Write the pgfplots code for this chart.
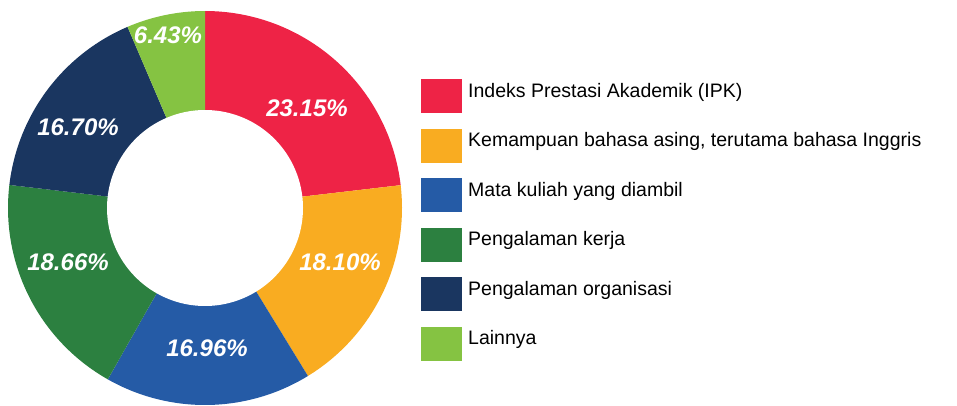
\documentclass[border=0pt]{standalone}
\usepackage{pgfplots}
\pgfplotsset{compat=1.18}
\usepackage{fontspec}
\setmainfont{Liberation Sans}
\definecolor{cRed}{RGB}{238,35,70}
\definecolor{cOrange}{RGB}{249,172,33}
\definecolor{cBlue}{RGB}{37,91,166}
\definecolor{cGreen}{RGB}{44,128,64}
\definecolor{cNavy}{RGB}{26,54,96}
\definecolor{cLime}{RGB}{133,195,66}
\begin{document}
\begin{tikzpicture}
\begin{axis}[
  scale only axis, width=957pt, height=405pt,
  xmin=0, xmax=957, ymin=0, ymax=405,
  hide axis, clip=false,
  legend style={at={(axis cs:421,326)}, anchor=north west, draw=none, fill=none,
    inner sep=0pt, row sep=15.5pt, column sep=0pt,
    font=\fontsize{19.5}{20}\selectfont,
    cells={anchor=base west}, nodes={inner sep=0pt}},
  legend image code/.code={\fill[#1] (0pt,-16pt) rectangle (41pt,18pt); \path (47pt,0pt);},
]
\draw[draw=none] (rel axis cs:0,0) rectangle (rel axis cs:1,1);
% slices: cumulative percentages 0, 23.15, 41.25, 58.21, 76.87, 93.57, 100
\addplot[fill=cRed, draw=none, domain=0:23.15, samples=80]
  ({205+197*cos(90-3.6*x)},{197+197*sin(90-3.6*x)}) -- (axis cs:205,197) -- cycle;
\addlegendentry{Indeks Prestasi Akademik (IPK)}
\addplot[fill=cOrange, draw=none, domain=23.15:41.25, samples=80]
  ({205+197*cos(90-3.6*x)},{197+197*sin(90-3.6*x)}) -- (axis cs:205,197) -- cycle;
\addlegendentry{Kemampuan bahasa asing, terutama bahasa Inggris}
\addplot[fill=cBlue, draw=none, domain=41.25:58.21, samples=80]
  ({205+197*cos(90-3.6*x)},{197+197*sin(90-3.6*x)}) -- (axis cs:205,197) -- cycle;
\addlegendentry{Mata kuliah yang diambil}
\addplot[fill=cGreen, draw=none, domain=58.21:76.87, samples=80]
  ({205+197*cos(90-3.6*x)},{197+197*sin(90-3.6*x)}) -- (axis cs:205,197) -- cycle;
\addlegendentry{Pengalaman kerja}
\addplot[fill=cNavy, draw=none, domain=76.87:93.57, samples=80]
  ({205+197*cos(90-3.6*x)},{197+197*sin(90-3.6*x)}) -- (axis cs:205,197) -- cycle;
\addlegendentry{Pengalaman organisasi}
\addplot[fill=cLime, draw=none, domain=93.57:100, samples=40]
  ({205+197*cos(90-3.6*x)},{197+197*sin(90-3.6*x)}) -- (axis cs:205,197) -- cycle;
\addlegendentry{Lainnya}
% hole
\addplot[fill=white, draw=none, domain=0:100, samples=200, forget plot]
  ({205+98*cos(3.6*x)},{197+98*sin(3.6*x)}) -- cycle;
% labels
\begin{scope}[every node/.style={font=\fontsize{24}{24}\selectfont\bfseries\itshape, text=white}]
\node at (axis cs:307,297) {23.15\%};
\node at (axis cs:340,143) {18.10\%};
\node at (axis cs:207,57) {16.96\%};
\node at (axis cs:68,143) {18.66\%};
\node at (axis cs:78,278) {16.70\%};
\node at (axis cs:168,370) {6.43\%};
\end{scope}
\end{axis}
\end{tikzpicture}
\end{document}
